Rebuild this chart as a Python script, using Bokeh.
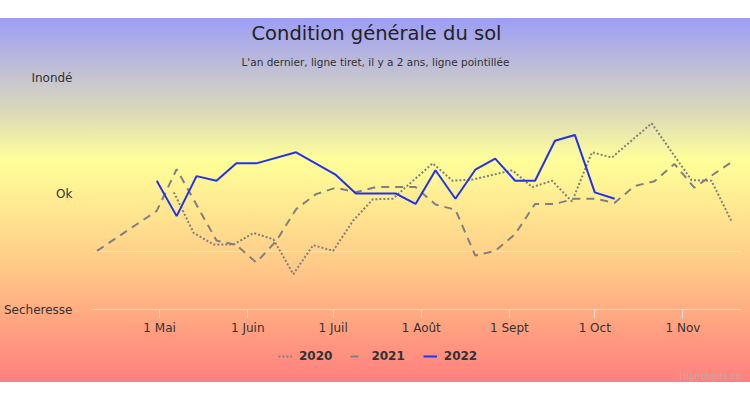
import pandas as pd
from bokeh.plotting import figure
from bokeh.layouts import column
from bokeh.models import FixedTicker, Legend, LegendItem, Title, Range1d, Label
from bokeh.embed import file_html
from bokeh.resources import INLINE

# ---- data (dates mapped onto the 2022 calendar) ----
dates_2020 = ["2022-05-06", "2022-05-13", "2022-05-20", "2022-05-27", "2022-06-03",
              "2022-06-10", "2022-06-17", "2022-06-24", "2022-07-01", "2022-07-08",
              "2022-07-15", "2022-07-22", "2022-08-05", "2022-08-12", "2022-08-19",
              "2022-09-02", "2022-09-09", "2022-09-16", "2022-09-23", "2022-09-30",
              "2022-10-07", "2022-10-21", "2022-11-04", "2022-11-11", "2022-11-18"]
vals_2020 = [0.02, -0.68, -0.88, -0.88, -0.68,
             -0.79, -1.39, -0.89, -0.99, -0.47,
             -0.10, -0.09, 0.52, 0.22, 0.24,
             0.40, 0.11, 0.22, -0.14, 0.71,
             0.62, 1.21, 0.23, 0.22, -0.47]

dates_2021 = ["2022-04-09", "2022-04-30", "2022-05-07", "2022-05-21", "2022-05-28",
              "2022-06-04", "2022-06-11", "2022-06-18", "2022-06-25", "2022-07-02",
              "2022-07-09", "2022-07-16", "2022-07-23", "2022-07-30", "2022-08-06",
              "2022-08-13", "2022-08-20", "2022-08-27", "2022-09-03", "2022-09-10",
              "2022-09-17", "2022-09-24", "2022-10-01", "2022-10-08", "2022-10-15",
              "2022-10-22", "2022-10-29", "2022-11-05", "2022-11-12", "2022-11-19"]
vals_2021 = [-0.99, -0.30, 0.42, -0.81, -0.89,
             -1.19, -0.82, -0.27, -0.01, 0.10,
             0.02, 0.11, 0.11, 0.11, -0.19,
             -0.28, -1.07, -0.99, -0.70, -0.18,
             -0.18, -0.09, -0.09, -0.16, 0.13,
             0.21, 0.51, 0.10, 0.34, 0.57]

dates_2022 = ["2022-04-30", "2022-05-07", "2022-05-14", "2022-05-21", "2022-05-28",
              "2022-06-04", "2022-06-18", "2022-07-02", "2022-07-09", "2022-07-23",
              "2022-07-30", "2022-08-06", "2022-08-13", "2022-08-20", "2022-08-27",
              "2022-09-03", "2022-09-10", "2022-09-17", "2022-09-24", "2022-10-01",
              "2022-10-08"]
vals_2022 = [0.22, -0.39, 0.30, 0.22, 0.52,
             0.52, 0.71, 0.32, 0.00, 0.00,
             -0.18, 0.40, -0.09, 0.41, 0.60,
             0.22, 0.22, 0.91, 1.01, 0.02,
             -0.09]

series_names = ["2020", "2021", "2022"]

y_ticks = [-2, -1, 0, 1, 2]
y_labels = ["Secheresse", "", "Ok", "", "Inondé"]

month_ticks = ["2022-05-01", "2022-06-01", "2022-07-01", "2022-08-01",
               "2022-09-01", "2022-10-01", "2022-11-01"]
month_labels = ["1 Mai", "1 Juin", "1 Juil", "1 Août", "1 Sept", "1 Oct", "1 Nov"]

x_start = "2022-04-07 10:00"
x_end = "2022-11-21 14:00"

title_text = "Condition générale du sol"
subtitle_text = "L'an dernier, ligne tiret, il y a 2 ans, ligne pointillée"
credit_text = "Highcharts.com"


def ms(s):
    return pd.Timestamp(s).timestamp() * 1000.0


FONT = "DejaVu Sans"
STYLES = [dict(line_color="#808080", line_width=2, line_dash="2 2"),
          dict(line_color="#808080", line_width=2, line_dash="8 6"),
          dict(line_color="#2233ee", line_width=2)]
SERIES = [(dates_2020, vals_2020), (dates_2021, vals_2021), (dates_2022, vals_2022)]

# ---------------- main chart ----------------
p = figure(x_axis_type="datetime", output_backend="svg", toolbar_location=None,
           width=750, height=339,
           min_border_left=91, min_border_right=9, min_border_top=77, min_border_bottom=30,
           x_range=Range1d(ms(x_start), ms(x_end)), y_range=Range1d(-2, 2),
           title=title_text)

p.background_fill_color = None
p.border_fill_color = None
p.outline_line_color = None

p.title.align = "left"
p.title.offset = 159
p.title.text_font = FONT
p.title.text_font_size = "19.5px"
p.title.text_font_style = "normal"
p.title.text_color = "#222222"
p.title.standoff = 0

sub = Title(text=subtitle_text, align="left", offset=149, text_font=FONT,
            text_font_size="10.5px", text_font_style="normal", text_color="#333333",
            standoff=19)
p.add_layout(sub, "above")

for (d, v), st in zip(SERIES, STYLES):
    p.line(pd.to_datetime(d), v, **st)

# y axis
p.yaxis.ticker = FixedTicker(ticks=y_ticks)
p.yaxis.major_label_overrides = {t: l for t, l in zip(y_ticks, y_labels)}
p.yaxis.axis_line_color = None
p.yaxis.major_tick_line_color = None
p.yaxis.minor_tick_line_color = None
p.yaxis.major_label_standoff = 14
p.yaxis.major_label_text_font = FONT
p.yaxis.major_label_text_font_size = "12px"
p.yaxis.major_label_text_color = "#333333"
p.ygrid.ticker = FixedTicker(ticks=y_ticks)
p.ygrid.grid_line_color = "#e6e6e6"
p.ygrid.grid_line_width = 1

# x axis
month_ms = [ms(m) for m in month_ticks]
p.xaxis.ticker = FixedTicker(ticks=month_ms)
p.xaxis.major_label_overrides = {t: l for t, l in zip(month_ms, month_labels)}
p.xaxis.axis_line_color = "#dddddd"
p.xaxis.major_tick_line_color = "#dddddd"
p.xaxis.major_tick_in = 0
p.xaxis.major_tick_out = 9
p.xaxis.minor_tick_line_color = None
p.xaxis.major_label_standoff = 2
p.xaxis.major_label_text_font = FONT
p.xaxis.major_label_text_font_size = "12px"
p.xaxis.major_label_text_color = "#333333"
p.xgrid.visible = False

# ---------------- legend strip (same series, kept out of its view) ----------------
q = figure(x_axis_type="datetime", output_backend="svg", toolbar_location=None,
           width=750, height=43, min_border=0, x_axis_location=None, y_axis_location=None,
           x_range=Range1d(ms(x_start), ms(x_end)), y_range=Range1d(10, 11))
q.background_fill_color = None
q.border_fill_color = None
q.outline_line_color = None
q.grid.visible = False

items = []
for name, (d, v), st in zip(series_names, SERIES, STYLES):
    r = q.line(pd.to_datetime(d), v, **st)
    items.append(LegendItem(label=name, renderers=[r]))

legend = Legend(items=items, orientation="horizontal", location=(182, 12),
                background_fill_alpha=0, border_line_alpha=0,
                label_text_font=FONT, label_text_font_size="12px",
                label_text_font_style="bold", label_text_color="#333333",
                glyph_width=14, label_standoff=7, spacing=18, padding=4, margin=0)
q.add_layout(legend, "center")

q.add_layout(Label(x=587, y=7, x_units="screen", y_units="screen", text=credit_text,
                   text_align="left", text_baseline="middle", text_font=FONT,
                   text_font_size="9px", text_color="#c8a898"))

layout = column(p, q, spacing=0, styles={
    "background-image": "linear-gradient(to bottom, #ffffff 0px, #ffffff 18px, "
                        "#9d9df7 18px, #c9c8cc 83px, #dcdab8 113px, #ffff99 160px, "
                        "#ffe08e 223px, #ffc386 278px, #ff9a80 338px, #ff8080 382px)"
})

open("out.html", "w").write(file_html(layout, INLINE))
